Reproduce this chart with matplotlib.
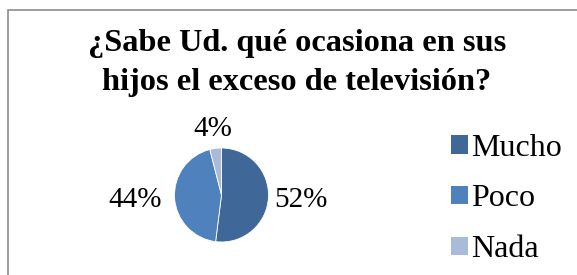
import numpy as np
import matplotlib.pyplot as plt
from matplotlib.patches import Rectangle

categories = ['Mucho', 'Poco', 'Nada']
values = [52, 44, 4]
colors = ['#3F6899', '#4F81BD', '#AABBD9']
label_dist = [1.7, 1.85, 1.42]

title = '¿Sabe Ud. qué ocasiona en sus\nhijos el exceso de televisión?'

plt.rcParams['font.family'] = ['Liberation Serif', 'DejaVu Serif']

W, H = 577, 275
fig = plt.figure(figsize=(W / 100, H / 100), dpi=100)

# chart frame, cut off at right and bottom
fig.patches.append(Rectangle((8 / W, -0.1), 1.2, (H - 10) / H + 0.1,
                             transform=fig.transFigure, fill=False,
                             edgecolor='#8C8C8C', linewidth=1.2))

fig.text(297 / W, 1 - 63 / H, title, ha='center', va='center',
         fontsize=23.3, fontweight='bold', linespacing=1.48)

# pie axes: center (221.5, 195), radius 47
r = 47
cx, cy = 221.5, 195
ax = fig.add_axes([(cx - r) / W, 1 - (cy + r) / H, 2 * r / W, 2 * r / H])
wedges, _ = ax.pie(values, colors=colors, startangle=90, counterclock=False,
                   radius=1.0, wedgeprops=dict(linewidth=0.6, edgecolor='white'))
ax.set_xlim(-1, 1)
ax.set_ylim(-1, 1)
ax.set_aspect('equal')
ax.axis('off')

for w, v, d in zip(wedges, values, label_dist):
    ang = np.deg2rad((w.theta1 + w.theta2) / 2)
    ax.text(d * np.cos(ang), d * np.sin(ang), f'{v}%', ha='center', va='center',
            fontsize=21, clip_on=False)

handles = [Rectangle((0, 0), 1, 1, facecolor=c) for c in colors]
fig.legend(handles, categories, loc='center left', bbox_to_anchor=(435 / W, 1 - 199 / H),
           frameon=False, fontsize=23, handlelength=0.52, handleheight=0.52,
           handletextpad=0.12, labelspacing=0.68, borderpad=0)

fig.savefig('out.png', dpi=100)
